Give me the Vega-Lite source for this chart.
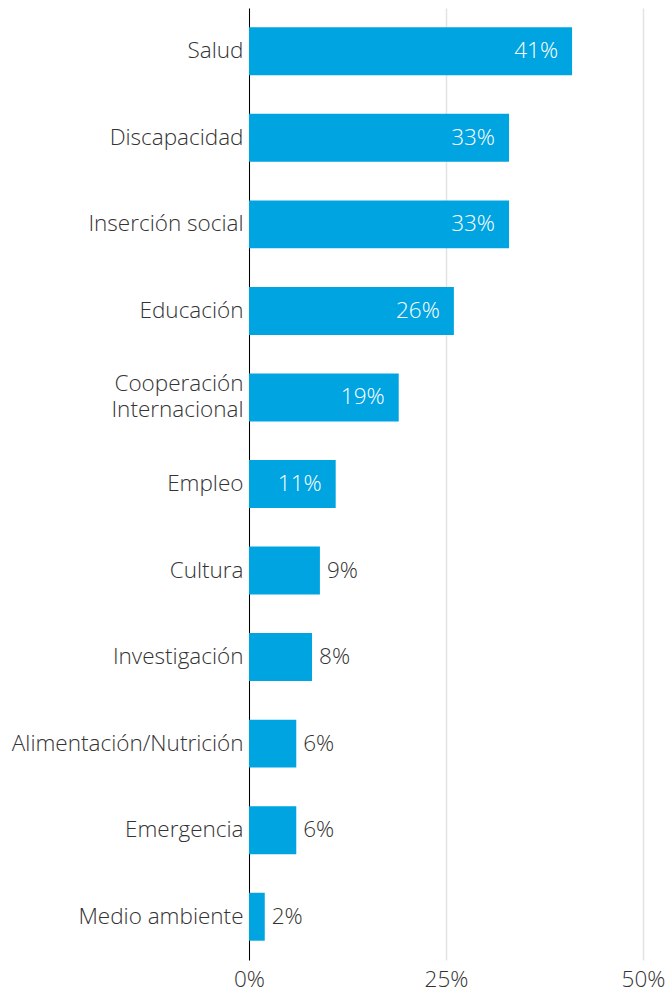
{
  "$schema": "https://vega.github.io/schema/vega-lite/v6.json",
  "autosize": {"type": "none"},
  "padding": {"left": 249, "top": 8, "right": 27, "bottom": 32},
  "width": 394,
  "height": 952,
  "background": "white",
  "config": {
    "view": {"stroke": null},
    "font": "Open Sans"
  },
  "data": {
    "values": [
      {"area": "Salud", "pct": 0.41},
      {"area": "Discapacidad", "pct": 0.33},
      {"area": "Inserción social", "pct": 0.33},
      {"area": "Educación", "pct": 0.26},
      {"area": "Cooperación Internacional", "pct": 0.19},
      {"area": "Empleo", "pct": 0.11},
      {"area": "Cultura", "pct": 0.09},
      {"area": "Investigación", "pct": 0.08},
      {"area": "Alimentación/Nutrición", "pct": 0.06},
      {"area": "Emergencia", "pct": 0.06},
      {"area": "Medio ambiente", "pct": 0.02}
    ]
  },
  "encoding": {
    "y": {
      "field": "area",
      "type": "nominal",
      "sort": null,
      "scale": {"paddingInner": 0.446, "paddingOuter": 0.223},
      "axis": {
        "title": null,
        "ticks": false,
        "domainColor": "#000000",
        "domainWidth": 1,
        "labelFont": "Open Sans",
        "labelFontWeight": 300,
        "labelFontSize": 22.5,
        "labelColor": "#333333",
        "labelPadding": 6,
        "labelLimit": 400,
        "labelLineHeight": 26,
        "labelOffset": {"condition": {"test": "datum.value == 'Cooperación Internacional'", "value": -13}, "value": 0},
        "labelExpr": "datum.value == 'Cooperación Internacional' ? ['Cooperación', 'Internacional'] : datum.value"
      }
    },
    "x": {
      "field": "pct",
      "type": "quantitative",
      "scale": {"domain": [0, 0.5]},
      "axis": {
        "title": null,
        "values": [0, 0.25, 0.5],
        "format": ".0%",
        "domain": false,
        "ticks": false,
        "grid": true,
        "gridColor": "#e3e3e3",
        "gridWidth": 1.5,
        "labelFlush": false,
        "labelFont": "Open Sans",
        "labelFontWeight": 300,
        "labelFontSize": 22.5,
        "labelColor": "#333333",
        "labelPadding": 8
      }
    }
  },
  "layer": [
    {
      "mark": {"type": "bar", "color": "#00a4e1"}
    },
    {
      "transform": [{"filter": "datum.pct >= 0.11"}],
      "mark": {"type": "text", "align": "right", "baseline": "middle", "dx": -14, "font": "Open Sans", "fontWeight": 300, "fontSize": 22.5, "color": "#ffffff"},
      "encoding": {"text": {"field": "pct", "type": "quantitative", "format": ".0%"}}
    },
    {
      "transform": [{"filter": "datum.pct < 0.11"}],
      "mark": {"type": "text", "align": "left", "baseline": "middle", "dx": 7, "font": "Open Sans", "fontWeight": 300, "fontSize": 22.5, "color": "#333333"},
      "encoding": {"text": {"field": "pct", "type": "quantitative", "format": ".0%"}}
    }
  ]
}
